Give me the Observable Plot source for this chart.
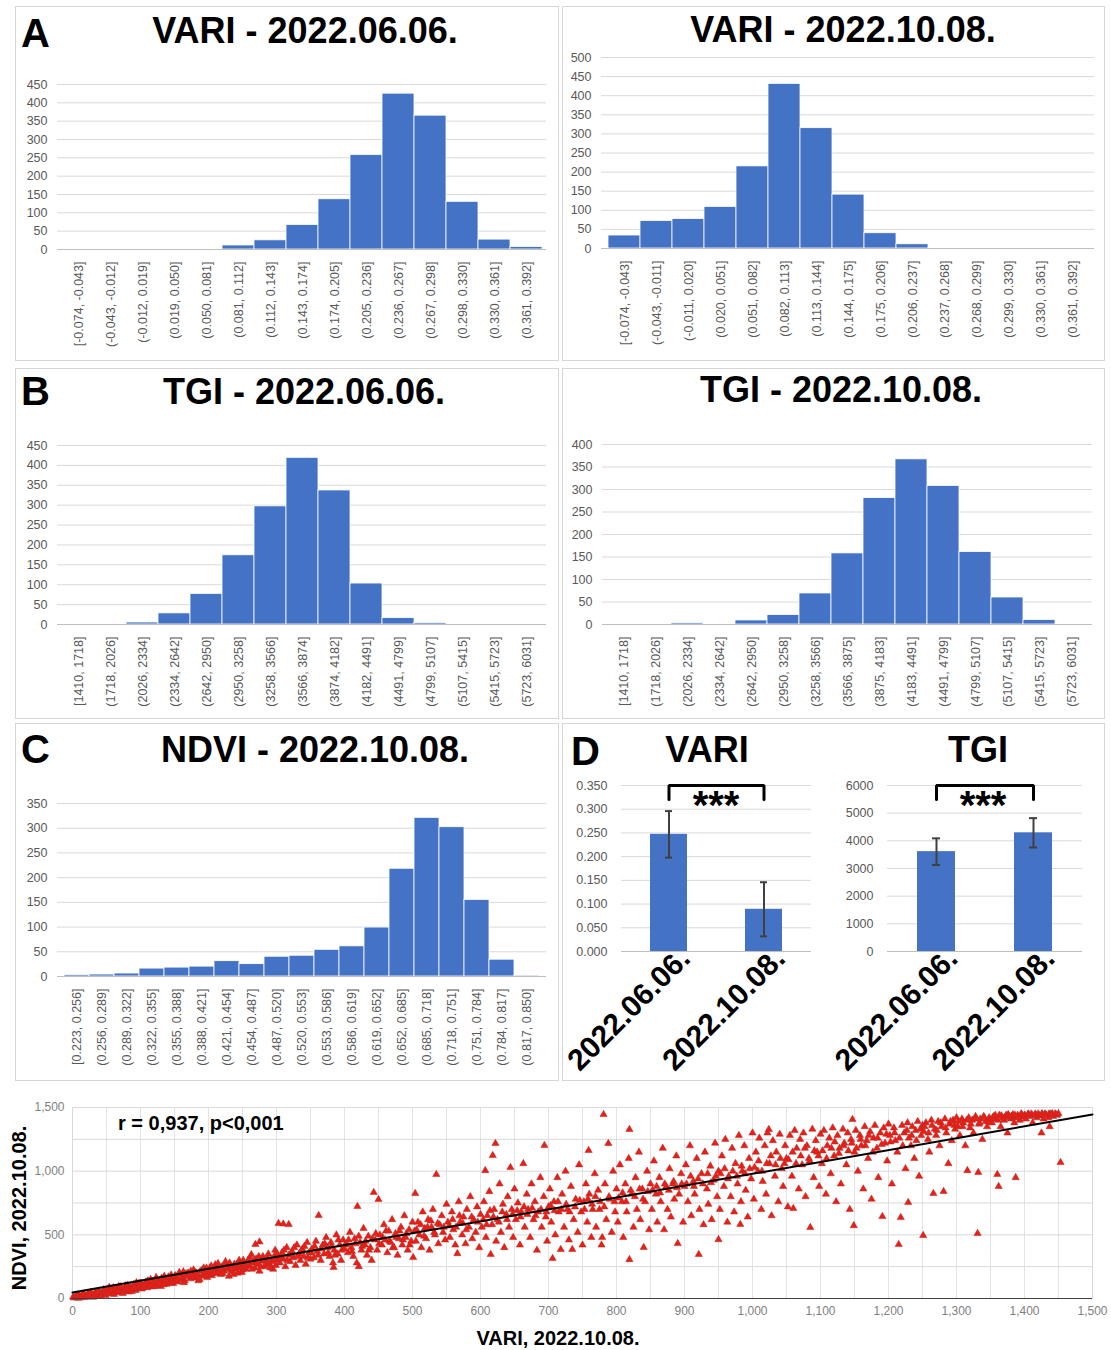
<!DOCTYPE html>
<html><head><meta charset="utf-8">
<script src="https://cdn.jsdelivr.net/npm/d3@7"></script>
<script src="https://cdn.jsdelivr.net/npm/@observablehq/plot@0.6"></script>
<style>
body{margin:0;background:#fff;}
#root{position:relative;width:1111px;height:1350px;overflow:hidden;font-family:"Liberation Sans",Arial,sans-serif;}
.pane{position:absolute;}
.pane svg{overflow:visible;display:block;}
</style></head><body><div id="root"></div>
<script>
// ---------------- DATA ----------------
const variBins0606 = ["[-0.074, -0.043]","(-0.043, -0.012]","(-0.012, 0.019]","(0.019, 0.050]","(0.050, 0.081]","(0.081, 0.112]","(0.112, 0.143]","(0.143, 0.174]","(0.174, 0.205]","(0.205, 0.236]","(0.236, 0.267]","(0.267, 0.298]","(0.298, 0.330]","(0.330, 0.361]","(0.361, 0.392]"];
const variCounts0606 = [0,0,0,0,0,11,25,67,137,258,425,365,130,27,7];
const variBins1008 = ["[-0.074, -0.043]","(-0.043, -0.011]","(-0.011, 0.020]","(0.020, 0.051]","(0.051, 0.082]","(0.082, 0.113]","(0.113, 0.144]","(0.144, 0.175]","(0.175, 0.206]","(0.206, 0.237]","(0.237, 0.268]","(0.268, 0.299]","(0.299, 0.330]","(0.330, 0.361]","(0.361, 0.392]"];
const variCounts1008 = [34,72,77,109,215,431,315,141,40,11,0,0,0,0,0];
const tgiBins0606 = ["[1410, 1718]","(1718, 2026]","(2026, 2334]","(2334, 2642]","(2642, 2950]","(2950, 3258]","(3258, 3566]","(3566, 3874]","(3874, 4182]","(4182, 4491]","(4491, 4799]","(4799, 5107]","(5107, 5415]","(5415, 5723]","(5723, 6031]"];
const tgiCounts0606 = [0,0,5,28,77,174,297,419,337,103,16,4,0,0,0];
const tgiBins1008 = ["[1410, 1718]","(1718, 2026]","(2026, 2334]","(2334, 2642]","(2642, 2950]","(2950, 3258]","(3258, 3566]","(3566, 3875]","(3875, 4183]","(4183, 4491]","(4491, 4799]","(4799, 5107]","(5107, 5415]","(5415, 5723]","(5723, 6031]"];
const tgiCounts1008 = [0,0,3,0,9,21,69,158,281,367,308,161,60,10,0];
const ndviBins1008 = ["[0.223, 0.256]","(0.256, 0.289]","(0.289, 0.322]","(0.322, 0.355]","(0.355, 0.388]","(0.388, 0.421]","(0.421, 0.454]","(0.454, 0.487]","(0.487, 0.520]","(0.520, 0.553]","(0.553, 0.586]","(0.586, 0.619]","(0.619, 0.652]","(0.652, 0.685]","(0.685, 0.718]","(0.718, 0.751]","(0.751, 0.784]","(0.784, 0.817]","(0.817, 0.850]"];
const ndviCounts1008 = [3,4,6,16,18,20,31,25,40,42,54,61,99,218,321,302,155,34,2];

const dates = ["2022.06.06.","2022.10.08."];
const variMeans = [0.247, 0.089];
const variSD = [0.049, 0.057];
const tgiMeans = [3610, 4290];
const tgiSD = [480, 530];

const regIntercept = 47, regSlope = 0.932;
const corrText = "r = 0,937, p<0,001";

// rank pairs [VARI rank, NDVI rank]
const scatterPairs = [
[2,5],[5,18],[8,3],[10,25],[12,12],[15,30],[18,8],[20,22],[23,40],[25,15],[28,35],[30,10],[33,45],[35,28],[38,20],[40,50],[42,33],[45,60],[47,38],[49,25],
[1,12],[4,8],[7,28],[11,5],[14,20],[17,35],[21,14],[24,28],[27,50],[31,22],[34,38],[37,55],[41,18],[44,45],[46,70],[48,52],
[52,55],[55,70],[57,40],[60,85],[62,50],[65,62],[68,95],[70,45],[72,75],[75,58],[78,100],[80,68],[83,52],[85,88],[88,72],[90,110],[93,63],[95,80],[98,120],[99,90],
[51,40],[54,88],[58,65],[61,32],[64,78],[67,58],[71,92],[74,40],[77,80],[81,105],[84,70],[87,55],[91,85],[94,125],[97,100],
[102,75],[105,98],[108,130],[110,85],[113,115],[115,150],[118,92],[120,120],[123,165],[125,105],[128,140],[130,95],[133,128],[135,175],[138,112],[140,150],[143,130],[145,185],[148,118],[150,145],
[101,120],[104,88],[107,110],[111,140],[114,100],[117,135],[121,95],[124,150],[127,118],[131,160],[134,108],[137,145],[141,170],[144,120],[147,160],[149,135],
[152,165],[155,130],[158,190],[160,150],[163,210],[165,140],[168,175],[170,200],[173,155],[175,185],[178,225],[180,160],[183,195],[185,140],[188,215],[190,175],[193,240],[195,190],[198,165],[200,210],
[151,180],[154,150],[157,205],[161,170],[164,125],[167,195],[171,180],[174,215],[177,170],[181,205],[184,180],[187,150],[191,225],[194,200],[197,240],[199,185],
[202,240],[205,180],[208,220],[210,265],[213,200],[215,235],[218,190],[220,250],[223,215],[225,290],[228,230],[230,175],[233,255],[235,210],[238,270],[240,230],[243,200],[245,300],[248,245],[250,225],
[201,215],[204,255],[207,195],[211,240],[214,275],[217,225],[221,195],[224,260],[227,245],[231,280],[234,225],[237,190],[241,265],[244,240],[247,280],[249,205],
[252,270],[255,230],[258,300],[260,255],[263,345],[265,280],[268,240],[270,310],[273,265],[275,215],[278,295],[280,330],[283,250],[285,290],[288,350],[290,270],[293,310],[295,230],[298,380],[300,300],
[251,300],[254,250],[257,275],[261,320],[264,230],[267,300],[271,285],[274,330],[277,250],[281,305],[284,270],[287,320],[291,240],[294,290],[297,335],[299,260],
[269,424],[275,445],[318,581],[303,590],[310,585],
[302,330],[305,280],[308,360],[310,310],[313,250],[315,400],[318,340],[320,290],[323,370],[325,320],[328,260],[330,420],[333,350],[335,300],[338,390],[340,330],[343,270],[345,440],[348,360],[350,310],
[301,350],[306,320],[311,380],[316,300],[321,355],[326,400],[331,330],[336,370],[341,410],[346,320],[351,360],[356,410],[361,340],[366,390],[371,430],[376,360],[381,410],[386,340],[391,460],[396,380],
[401,420],[406,460],[411,370],[416,430],[421,490],[426,410],[431,450],[436,380],[441,470],[446,510],[451,430],[456,480],[461,530],[466,450],[471,400],[476,480],[481,530],[486,460],[491,510],[496,420],
[352,390],[355,320],[358,450],[360,370],[362,652],[365,300],[368,420],[370,350],[373,480],[375,400],[378,330],[380,440],[383,280],[384,244],[385,380],[388,500],[390,350],[393,420],[395,300],[398,460],[400,390],
[403,430],[405,360],[408,520],[410,400],[413,330],[415,470],[418,280],[419,723],[421,251],[423,440],[425,380],[428,550],[430,420],[433,340],[435,490],[438,400],[440,300],[443,833],[445,460],[448,380],[450,778],
[452,500],[455,420],[458,580],[460,460],[463,360],[465,530],[468,440],[470,620],[473,400],[475,510],[478,340],[480,470],[483,560],[485,420],[488,650],[490,480],[493,380],[495,540],[498,450],[500,600],
[501,322],[503,530],[504,825],[505,450],[508,600],[510,500],[513,400],[515,680],[518,550],[520,470],[523,620],[525,380],[528,560],[530,700],[533,500],[535,974],[538,430],[540,580],[543,650],[545,520],[548,460],[550,740],
[506,540],[512,580],[517,490],[522,560],[527,610],[532,520],[537,590],[546,560],
[552,600],[555,480],[558,680],[560,540],[563,420],[566,353],[568,760],[570,600],[573,500],[575,640],[578,430],[580,700],[583,560],[585,800],[588,470],[590,620],[593,520],[595,720],[598,400],[600,660],
[554,570],[559,620],[564,560],[569,650],[574,590],[579,540],[587,640],[596,600],
[602,560],[605,760],[607,1005],[608,480],[610,650],[613,840],[615,346],[617,580],[618,1123],[620,700],[622,1218],[623,450],[625,620],[628,900],[630,520],[633,740],[635,400],[638,660],[640,800],[642,560],[644,1029],[646,700],[648,480],[650,860],
[604,620],[609,580],[614,690],[619,640],[627,600],[632,680],[639,620],[647,660],
[652,620],[655,750],[658,420],[660,680],[663,1060],[665,560],[668,820],[670,700],[673,480],[675,900],[678,620],[680,760],[683,380],[685,680],[688,950],[690,560],[693,800],[694,1202],[696,640],[698,450],[700,720],
[654,690],[659,640],[664,720],[669,660],[676,710],[681,650],[689,700],[697,680],
[702,860],[704,600],[706,314],[708,760],[710,500],[713,950],[715,680],[718,385],[720,820],[723,560],[725,1000],[728,700],[730,460],[733,880],[735,385],[737,620],[740,780],[743,520],[745,1050],[748,680],[750,420],
[703,730],[709,690],[714,760],[719,700],[726,740],[731,680],[739,720],[746,770],
[752,760],[755,900],[757,600],[759,1163],[760,820],[763,480],[765,700],[768,980],[770,560],[773,850],[775,700],[778,420],[779,479],[781,1445],[783,900],[785,620],[788,1218],[790,780],[793,520],[795,1000],[798,680],[800,860],
[753,700],[758,780],[764,740],[769,800],[776,760],[782,720],[789,800],[797,760],
[802,600],[805,1050],[808,760],[810,480],[813,900],[815,680],[818,1100],[819,1328],[819,306],[822,820],[825,560],[828,950],[830,700],[833,1150],[835,620],[838,860],[840,401],[842,760],[845,1000],[848,540],[850,900],
[803,790],[809,830],[814,760],[821,850],[827,800],[834,860],[839,780],[846,840],
[852,700],[855,1080],[858,820],[860,600],[863,950],[865,760],[868,1180],[870,540],[873,880],[875,700],[878,1020],[880,640],[883,900],[885,780],[888,1120],[890,432],[892,820],[895,980],[898,600],[900,880],
[853,850],[859,880],[864,830],[871,900],[877,850],[884,920],[889,870],[896,900],
[902,1050],[905,760],[908,1200],[910,650],[913,920],[915,820],[918,1100],[921,346],[922,700],[925,980],[928,580],[930,1150],[933,860],[935,740],[938,1040],[940,620],[943,930],[945,1220],[948,800],[950,463],[950,1000],
[903,900],[909,960],[914,880],[920,940],[927,900],[934,980],[939,910],[946,960],
[952,700],[955,1120],[958,880],[960,1250],[963,600],[965,960],[968,800],[970,1180],[973,680],[975,1060],[978,900],[980,1280],[982,581],[983,760],[985,1000],[988,1200],[990,850],[993,640],[995,1100],[998,940],[1000,1300],
[953,980],[959,1020],[964,940],[971,1000],[977,960],[984,1040],[989,980],[996,1020],
[1002,780],[1005,1150],[1008,1000],[1010,1260],[1013,700],[1015,920],[1018,1200],[1020,820],[1022,1300],[1024,1328],[1025,1060],[1028,650],[1030,1240],[1033,960],[1035,1150],[1038,760],[1040,1290],[1043,1020],[1045,880],[1048,1200],[1050,1100],
[1003,1030],[1009,1080],[1014,1000],[1021,1060],[1027,1120],[1034,1050],[1041,1100],[1047,1060],
[1052,720],[1055,1280],[1058,960],[1060,707],[1062,1320],[1065,1180],[1068,860],[1070,1250],[1073,1050],[1075,1300],[1078,800],[1080,1200],[1083,1100],[1085,558],[1088,1330],[1090,950],[1093,1240],[1095,1150],[1098,880],[1100,1290],
[1053,1090],[1059,1150],[1064,1060],[1071,1120],[1077,1180],[1084,1080],[1091,1160],[1097,1120],
[1102,1060],[1105,1320],[1108,820],[1110,1200],[1113,1260],[1115,980],[1118,1340],[1120,1120],[1123,760],[1125,1280],[1128,1180],[1130,900],[1133,1330],[1135,1220],[1138,1050],[1140,1300],[1143,700],[1145,1250],[1147,1406],[1149,573],[1150,1150],
[1103,1160],[1109,1100],[1116,1180],[1121,1230],[1127,1140],[1134,1200],[1141,1160],[1146,1220],
[1152,1320],[1155,1000],[1158,1280],[1160,1200],[1163,860],[1165,1350],[1168,1240],[1170,1100],[1173,1310],[1175,780],[1178,1260],[1180,1360],[1183,1180],[1185,950],[1188,1300],[1191,644],[1193,1340],[1195,1220],[1198,1080],[1200,1370],
[1153,1180],[1159,1250],[1166,1200],[1171,1280],[1177,1150],[1184,1260],[1190,1210],[1197,1290],
[1202,1280],[1205,900],[1208,1340],[1210,1240],[1213,1150],[1215,424],[1218,636],[1220,1360],[1223,1300],[1225,1020],[1228,1380],[1229,754],[1230,1260],[1233,1200],[1235,1350],[1238,1100],[1240,1320],[1243,1390],[1245,960],[1248,1280],[1250,1360],
[1203,1230],[1209,1300],[1216,1260],[1221,1200],[1227,1320],[1234,1280],[1241,1240],[1247,1330],
[1251,495],[1252,1310],[1255,1380],[1258,1250],[1260,1150],[1263,1400],[1266,825],[1268,1330],[1270,1280],[1273,1390],[1275,1200],[1278,1350],[1281,841],[1283,1410],[1285,1300],[1288,1060],[1290,1370],[1293,1240],[1295,1400],[1298,1330],[1300,1420],
[1253,1350],[1259,1300],[1264,1360],[1271,1320],[1277,1380],[1284,1340],[1291,1390],[1297,1360],
[1302,1350],[1305,1280],[1308,1410],[1310,1380],[1313,1200],[1316,1005],[1318,1420],[1320,1340],[1323,1400],[1325,1300],[1328,1430],[1331,511],[1332,990],[1333,1370],[1335,1410],[1338,1250],[1340,1430],[1343,1390],[1345,1350],[1348,1420],[1350,1400],
[1303,1390],[1309,1350],[1315,1400],[1321,1370],[1327,1410],[1334,1380],[1341,1420],[1347,1390],
[1352,1380],[1355,1430],[1358,1410],[1360,975],[1362,880],[1363,1440],[1365,1350],[1368,1420],[1370,1400],[1373,1440],[1375,1300],[1378,1430],[1380,1410],[1383,1445],[1385,1380],[1387,950],[1388,1420],[1390,1440],[1393,1400],[1395,1450],[1398,1425],[1400,1440],
[1353,1420],[1357,1440],[1361,1400],[1366,1435],[1371,1420],[1376,1445],[1381,1430],[1386,1440],[1391,1425],[1396,1445],[1401,1435],[1406,1450],[1411,1440],[1416,1450],[1421,1440],[1426,1452],[1431,1445],[1436,1450],[1441,1452],[1446,1448],
[1402,1410],[1405,1445],[1408,1430],[1410,1450],[1412,1380],[1415,1440],[1418,1420],[1420,1450],[1422,1435],[1425,1445],[1428,1410],[1430,1450],[1432,1440],[1435,1420],[1438,1450],[1440,1445],[1442,1430],[1445,1450],[1448,1440],[1450,1452],[1453,1068],[1425,1300],[1437,1350]
];

// ---------------- LAYOUT ----------------
const root = document.getElementById("root");
const FONT = "'Liberation Sans', Arial, sans-serif";
const axisStyle = {fontFamily: FONT, fontSize: "12.5px", color: "#595959", background: "transparent", overflow: "visible"};
const BLUE = "#4472c4", GRID = "#d9d9d9";
const commaFmt = d3.format(",");

function place(node, left, top) {
  const d = document.createElement("div");
  d.className = "pane";
  d.style.left = left + "px"; d.style.top = top + "px";
  d.appendChild(node);
  root.appendChild(d);
}

// panel borders (underlay)
const under = d3.create("svg").attr("width", 1111).attr("height", 1350)
  .style("position", "absolute").style("left", 0).style("top", 0);
[[15,6,543,354],[562,6,542,354],[15,368,543,350],[562,368,542,350],[15,723,543,357],[562,723,542,357]]
  .forEach(([x,y,w,h]) => under.append("rect").attr("x", x+0.5).attr("y", y+0.5).attr("width", w).attr("height", h)
    .attr("fill", "none").attr("stroke", "#d6d6d6"));
root.appendChild(under.node());

function histogram(labels, counts, yMax, yStep, b) {
  const data = labels.map((label, i) => ({label, count: counts[i]}));
  const ticks = d3.range(0, yMax + yStep / 2, yStep);
  return Plot.plot({
    width: b.w, height: b.h, marginLeft: b.ml, marginRight: b.mr, marginTop: b.mt, marginBottom: b.mb,
    style: axisStyle,
    x: {domain: labels, padding: 0},
    y: {domain: [0, yMax]},
    marks: [
      Plot.gridY(ticks, {stroke: GRID, strokeOpacity: 1}),
      Plot.barY(data, {x: "label", y: "count", fill: BLUE, stroke: "#ffffff", strokeWidth: 0.8}),
      Plot.ruleY([0], {stroke: "#bfbfbf"}),
      Plot.axisX({tickRotate: -90, tickSize: 0, tickPadding: 12, label: null}),
      Plot.axisY({ticks, tickSize: 0, tickPadding: 10, label: null})
    ]
  });
}

place(histogram(variBins0606, variCounts0606, 450, 50, {w: 558, h: 290, ml: 57, mr: 12, mt: 14, mb: 111}), 0, 70);
place(histogram(variBins1008, variCounts1008, 500, 50, {w: 545, h: 315, ml: 41, mr: 11, mt: 12, mb: 112}), 560, 45);
place(histogram(tgiBins0606, tgiCounts0606, 450, 50, {w: 558, h: 288, ml: 57, mr: 12, mt: 15, mb: 94}), 0, 430);
place(histogram(tgiBins1008, tgiCounts1008, 400, 50, {w: 545, h: 288, ml: 42, mr: 13, mt: 14, mb: 94}), 560, 430);
place(histogram(ndviBins1008, ndviCounts1008, 350, 50, {w: 558, h: 290, ml: 57, mr: 12, mt: 13, mb: 104}), 0, 790);

function meanBars(means, sds, yMax, yStep, fmt, b) {
  const data = dates.map((date, i) => ({date, mean: means[i], lo: means[i] - sds[i], hi: means[i] + sds[i]}));
  const ticks = d3.range(0, yMax + yStep / 2, yStep);
  const bracket = [
    {date: dates[0], y: yMax * 0.916}, {date: dates[0], y: yMax},
    {date: dates[1], y: yMax}, {date: dates[1], y: yMax * 0.916}
  ];
  return Plot.plot({
    width: b.w, height: b.h, marginLeft: b.ml, marginRight: b.mr, marginTop: b.mt, marginBottom: b.mb,
    style: axisStyle,
    x: {domain: dates, paddingInner: 0.61, paddingOuter: 0.305},
    y: {domain: [0, yMax]},
    marks: [
      Plot.gridY(ticks, {stroke: GRID, strokeOpacity: 1}),
      Plot.barY(data, {x: "date", y: "mean", fill: BLUE}),
      Plot.ruleX(data, {x: "date", y1: "lo", y2: "hi", stroke: "#404040", strokeWidth: 2}),
      Plot.tickY(data, {x: "date", y: "lo", stroke: "#404040", strokeWidth: 2, insetLeft: 15, insetRight: 15}),
      Plot.tickY(data, {x: "date", y: "hi", stroke: "#404040", strokeWidth: 2, insetLeft: 15, insetRight: 15}),
      Plot.ruleY([0], {stroke: "#bfbfbf"}),
      Plot.line(bracket, {x: "date", y: "y", stroke: "#000", strokeWidth: 3, strokeLinejoin: "miter"}),
      Plot.axisX({tickRotate: -45, tickSize: 0, tickPadding: 2, dx: 16, label: null, fontSize: 30, fontWeight: "bold", fill: "#000"}),
      Plot.axisY({ticks, tickSize: 0, tickPadding: 14, tickFormat: fmt, label: null})
    ]
  });
}
place(meanBars(variMeans, variSD, 0.35, 0.05, d3.format(".3f"), {w: 275, h: 310, ml: 61, mr: 24, mt: 15, mb: 129}), 560, 770);
place(meanBars(tgiMeans, tgiSD, 6000, 1000, d3.format("d"), {w: 270, h: 310, ml: 52, mr: 23, mt: 15, mb: 129}), 835, 770);

// scatter
const pts = scatterPairs.map(([x, y]) => ({x, y}));
const regLine = [0, 1500].map(x => ({x, y: regIntercept + regSlope * x}));
place(Plot.plot({
  width: 1111, height: 255, marginLeft: 72, marginRight: 19, marginTop: 12, marginBottom: 52,
  style: {...axisStyle, fontSize: "12px", color: "#7f7f7f"},
  x: {domain: [0, 1500]},
  y: {domain: [0, 1500]},
  marks: [
    Plot.gridX(d3.range(0, 1501, 50), {stroke: "#e3e3e3", strokeOpacity: 1}),
    Plot.gridY(d3.range(0, 1501, 250), {stroke: GRID, strokeOpacity: 1}),
    Plot.frame({stroke: GRID}),
    Plot.dot(pts, {x: "x", y: "y", symbol: "triangle", r: 2.7, fill: "#ee1c14", stroke: "#a8302a", strokeWidth: 0.5}),
    Plot.line(regLine, {x: "x", y: "y", stroke: "#000", strokeWidth: 2}),
    Plot.ruleY([0], {stroke: "#404040", strokeWidth: 1.2}),
    Plot.axisX({ticks: d3.range(0, 1501, 100), tickFormat: commaFmt, tickSize: 0, tickPadding: 8, label: null}),
    Plot.axisY({ticks: [0, 500, 1000, 1500], tickFormat: commaFmt, tickSize: 0, tickPadding: 8, label: null})
  ]
}), 0, 1095);

// text overlay
const over = d3.create("svg").attr("width", 1111).attr("height", 1350)
  .style("position", "absolute").style("left", 0).style("top", 0).style("pointer-events", "none")
  .attr("font-family", FONT).attr("font-weight", "bold").attr("fill", "#000");
function t(txt, x, y, size, anchor = "middle", rot = 0) {
  const e = over.append("text").attr("x", x).attr("y", y).attr("font-size", size).attr("text-anchor", anchor).text(txt);
  if (rot) e.attr("transform", `rotate(${rot},${x},${y})`);
}
t("A", 21, 47, 40, "start");
t("VARI - 2022.06.06.", 305, 43, 36);
t("VARI - 2022.10.08.", 843, 42, 36);
t("B", 21, 405, 40, "start");
t("TGI - 2022.06.06.", 304, 404, 36);
t("TGI - 2022.10.08.", 841, 402, 36);
t("C", 21, 763, 40, "start");
t("NDVI - 2022.10.08.", 315, 762, 36);
t("D", 571, 765, 40, "start");
t("VARI", 707, 762, 36);
t("TGI", 978, 762, 36);
t("***", 716, 819, 40);
t("***", 983, 819, 40);
t(corrText, 118, 1130, 20, "start");
t("VARI, 2022.10.08.", 558, 1345, 20);
t("NDVI, 2022.10.08.", 26, 1208, 20, "middle", -90);
root.appendChild(over.node());
</script></body></html>
